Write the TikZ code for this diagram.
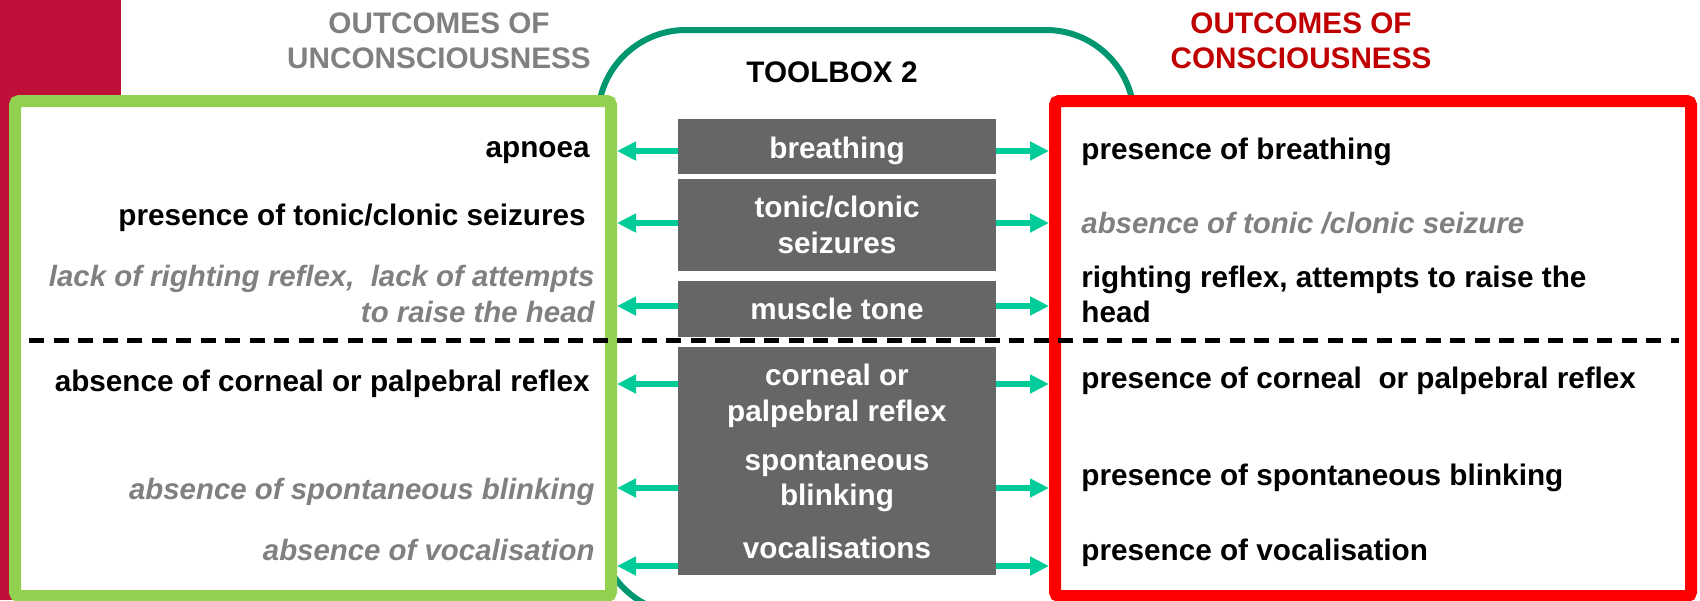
\documentclass[tikz,border=0pt]{standalone}
\usepackage{fontspec}
\setmainfont{Liberation Sans}
\usetikzlibrary{arrows.meta}
\definecolor{bandred}{RGB}{190,16,56}
\definecolor{boxgreen}{RGB}{146,208,80}
\definecolor{boxred}{RGB}{255,0,0}
\definecolor{framegreen}{RGB}{0,150,112}
\definecolor{arrowgreen}{RGB}{0,204,153}
\definecolor{toolgray}{RGB}{102,102,102}
\definecolor{txtgray}{RGB}{128,128,128}
\definecolor{titlered}{RGB}{192,0,0}
\begin{document}
\begin{tikzpicture}[x=0.5pt,y=-0.5pt,
  txt/.style={inner sep=0pt, font=\fontsize{14.85pt}{18pt}\selectfont\bfseries},
  lefttxt/.style={txt, anchor=base east},
  righttxt/.style={txt, anchor=base west},
  grayit/.style={text=txtgray, font=\fontsize{14.7pt}{18pt}\selectfont\bfseries\itshape},
  tooltxt/.style={txt, anchor=base, text=white},
  toolbox/.style={fill=toolgray, inner sep=0pt, minimum width=159pt},
  outbox/.style={draw, line width=6pt, fill=white, rounded corners=2pt, minimum height=247.5pt, inner sep=0pt},
  arr/.style={draw=arrowgreen, line width=2.6pt, -{Triangle[length=9.5pt,width=9pt]}}
]
\clip (0,0) rectangle (1700,600);
\fill[bandred] (0,0) rectangle (121,600);
% toolbox frame
\draw[framegreen, line width=3pt, rounded corners=44pt] (598,30) rectangle (1134,614);
% outcome boxes
\node[outbox, draw=boxgreen, minimum width=298pt] (gbox) at (313,348.5) {};
\node[outbox, draw=boxred, minimum width=318pt] (rbox) at (1373,348.5) {};
% titles
\node[txt, anchor=base, text=txtgray] (ut1) at (439,33) {OUTCOMES OF};
\node[txt, anchor=base, text=txtgray] (ut2) at (439,68) {UNCONSCIOUSNESS};
\node[txt, anchor=base, text=titlered] (ct1) at (1301,33) {OUTCOMES OF};
\node[txt, anchor=base, text=titlered] (ct2) at (1301,68) {CONSCIOUSNESS};
\node[txt, anchor=base] (tb) at (832,82) {TOOLBOX 2};
% tool boxes
\node[toolbox, minimum height=27.5pt] (t1) at (837,146.5) {};
\node[toolbox, minimum height=46pt] (t2) at (837,225) {};
\node[toolbox, minimum height=28pt] (t3) at (837,309) {};
\node[toolbox, minimum height=114pt] (t4) at (837,461) {};
\node[tooltxt] (t1a) at (837,158) {breathing};
\node[tooltxt] (t2a) at (837,217) {tonic/clonic};
\node[tooltxt] (t2b) at (837,253) {seizures};
\node[tooltxt] (t3a) at (837,319) {muscle tone};
\node[tooltxt] (t4a) at (837,385) {corneal or};
\node[tooltxt] (t4b) at (837,421) {palpebral reflex};
\node[tooltxt] (t4c) at (837,470) {spontaneous};
\node[tooltxt] (t4d) at (837,505) {blinking};
\node[tooltxt] (t4e) at (837,558) {vocalisations};
% left outcomes
\node[lefttxt] (l1) at (590,157) {apnoea};
\node[lefttxt] (l2) at (586,225) {presence of tonic/clonic seizures};
\node[lefttxt, grayit] (l3a) at (595,286) {lack of righting reflex, \ lack of attempts};
\node[lefttxt, grayit] (l3b) at (595,322) {to raise the head};
\node[lefttxt] (l4) at (590,391) {absence of corneal or palpebral reflex};
\node[lefttxt, grayit] (l5) at (595,499) {absence of spontaneous blinking};
\node[lefttxt, grayit] (l6) at (595,560) {absence of vocalisation};
% right outcomes
\node[righttxt] (r1) at (1081,159) {presence of breathing};
\node[righttxt, grayit] (r2) at (1081,233) {absence of tonic /clonic seizure};
\node[righttxt] (r3a) at (1081,287) {righting reflex, attempts to raise the};
\node[righttxt] (r3b) at (1081,322) {head};
\node[righttxt] (r4) at (1081,388) {presence of corneal \ or palpebral reflex};
\node[righttxt] (r5) at (1081,485) {presence of spontaneous blinking};
\node[righttxt] (r6) at (1081,560) {presence of vocalisation};
% arrow rows
\coordinate (y1) at (0,151);
\coordinate (y2) at (0,223);
\coordinate (y3) at (0,306);
\coordinate (y4) at (0,384);
\coordinate (y5) at (0,488);
\coordinate (y6) at (0,566);
\draw[arr] (t1.west |- y1) -- (gbox.east |- y1);
\draw[arr] (t2.west |- y2) -- (gbox.east |- y2);
\draw[arr] (t3.west |- y3) -- (gbox.east |- y3);
\draw[arr] (t4.west |- y4) -- (gbox.east |- y4);
\draw[arr] (t4.west |- y5) -- (gbox.east |- y5);
\draw[arr] (t4.west |- y6) -- (gbox.east |- y6);
\draw[arr] (t1.east |- y1) -- (rbox.west |- y1);
\draw[arr] (t2.east |- y2) -- (rbox.west |- y2);
\draw[arr] (t3.east |- y3) -- (rbox.west |- y3);
\draw[arr] (t4.east |- y4) -- (rbox.west |- y4);
\draw[arr] (t4.east |- y5) -- (rbox.west |- y5);
\draw[arr] (t4.east |- y6) -- (rbox.west |- y6);
% separator
\coordinate (dl) at (29,340);
\coordinate (dr) at (1679,340);
\draw[line width=2.5pt, dash pattern=on 7.5pt off 4.75pt] (dl) -- (dr);
\end{tikzpicture}
\end{document}
